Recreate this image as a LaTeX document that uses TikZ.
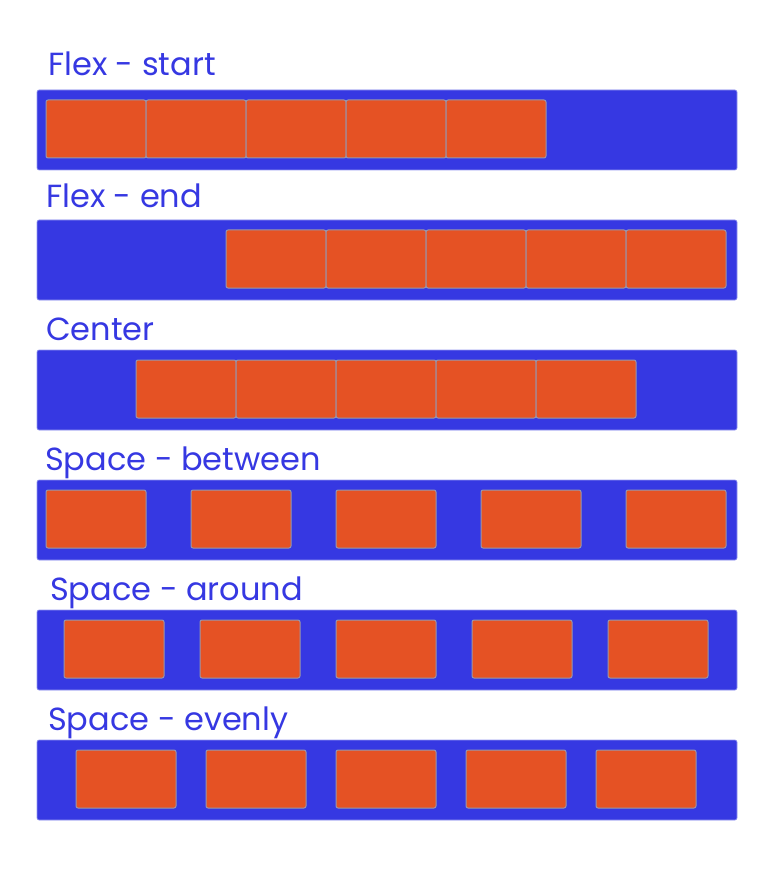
\documentclass[tikz,border=0pt]{standalone}
\usepackage{fontspec}
\newfontfamily\flexfont{Poppins}
\usetikzlibrary{positioning}
\definecolor{flexBlue}{RGB}{54,56,226}
\definecolor{rowEdge}{RGB}{150,152,240}
\definecolor{itemOrange}{RGB}{229,82,36}
\definecolor{itemEdge}{RGB}{150,150,175}
\tikzset{
  fx/row/.style={rectangle, draw=rowEdge, fill=flexBlue, rounded corners=2pt,
    minimum width=700pt, minimum height=80pt, inner sep=0pt, outer sep=0pt,
    anchor=north west, line width=0.6pt},
  fx/item/.style={rectangle, draw=itemEdge, fill=itemOrange, rounded corners=2pt,
    minimum width=100pt, minimum height=58pt, inner sep=0pt, outer sep=0pt,
    line width=1pt},
  fx/title/.style={font=\flexfont\fontsize{32}{40}\selectfont, text=flexBlue,
    anchor=base west, inner sep=0pt}
}

\begin{document}
\begin{tikzpicture}[x=1pt, y=-1pt]
  \useasboundingbox (0,0) rectangle (770,890);

  % the six containers
  \foreach \r/\y in {1/90, 2/220, 3/350, 4/480, 5/610, 6/740}
    \node[fx/row] (row\r) at (37,\y) {};

  % titles
  \node[fx/title] (t1) at (48,76)  {Flex - start};
  \node[fx/title] (t2) at (46,208) {Flex - end};
  \node[fx/title] (t3) at (46,340) {Center};
  \node[fx/title] (t4) at (45,470) {Space - between};
  \node[fx/title] (t5) at (50,600) {Space - around};
  \node[fx/title] (t6) at (48,730) {Space - evenly};

  % flex-start
  \node[fx/item, anchor=north west] (a1) at (46,100) {};
  \foreach \i [remember=\i as \j (initially 1)] in {2,...,5}
    \node[fx/item, right=0pt of a\j] (a\i) {};

  % flex-end
  \node[fx/item, anchor=north west] (b1) at (226,230) {};
  \foreach \i [remember=\i as \j (initially 1)] in {2,...,5}
    \node[fx/item, right=0pt of b\j] (b\i) {};

  % center
  \node[fx/item, anchor=north west] (c1) at (136,360) {};
  \foreach \i [remember=\i as \j (initially 1)] in {2,...,5}
    \node[fx/item, right=0pt of c\j] (c\i) {};

  % space-between
  \node[fx/item, anchor=north west] (d1) at (46,490) {};
  \foreach \i [remember=\i as \j (initially 1)] in {2,...,5}
    \node[fx/item, right=45pt of d\j] (d\i) {};

  % space-around
  \node[fx/item, anchor=north west] (e1) at (64,620) {};
  \foreach \i [remember=\i as \j (initially 1)] in {2,...,5}
    \node[fx/item, right=36pt of e\j] (e\i) {};

  % space-evenly
  \node[fx/item, anchor=north west] (f1) at (76,750) {};
  \foreach \i [remember=\i as \j (initially 1)] in {2,...,5}
    \node[fx/item, right=30pt of f\j] (f\i) {};
\end{tikzpicture}
\end{document}
